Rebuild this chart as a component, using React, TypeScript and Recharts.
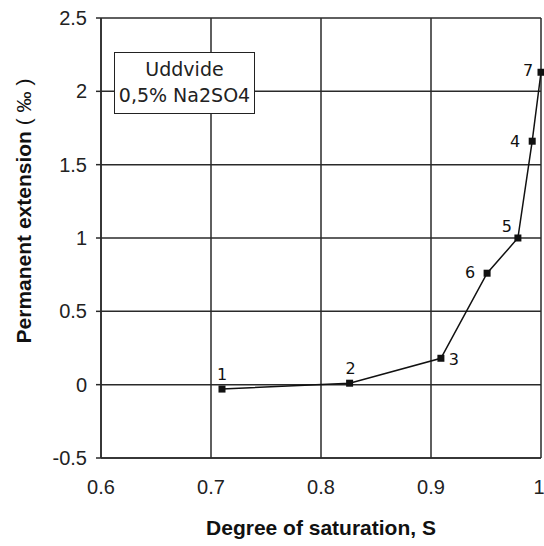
import { LineChart, Line, XAxis, YAxis, CartesianGrid, LabelList, Label } from "recharts";

// degree of saturation S vs permanent extension (per mille), test no. per point
const saturation = [0.71, 0.826, 0.909, 0.951, 0.979, 0.992, 1.0];
const extension = [-0.03, 0.01, 0.18, 0.76, 1.0, 1.66, 2.13];
const sampleNo = ["1", "2", "3", "6", "5", "4", "7"];

const xTicks = [0.6, 0.7, 0.8, 0.9, 1];
const yTicks = [-0.5, 0, 0.5, 1, 1.5, 2, 2.5];

const legendLines = ["Uddvide", "0,5% Na2SO4"];

const data = saturation.map((s, i) => ({ s, ext: extension[i], no: sampleNo[i] }));

// where each number sits relative to its marker
const labelOffset: Record<string, [number, number]> = {
  "1": [0, -15],
  "2": [1, -15],
  "3": [13, 1],
  "6": [-17, -1],
  "5": [-11, -12],
  "4": [-17, 0],
  "7": [-13, -2],
};

const tickFont = { fontFamily: "Liberation Sans", fontSize: 20, fill: "#222" };
const gridColor = "#2a2a2a";

function SquareDot(props: any) {
  const { cx, cy, index } = props;
  if (cx == null || cy == null) return null;
  return <rect key={`d-${index}`} x={cx - 3.5} y={cy - 3.5} width={7} height={7} fill="#111" />;
}

function PointLabel(props: any) {
  const { x, y, value } = props;
  const [dx, dy] = labelOffset[value] ?? [0, -12];
  return (
    <text
      x={x + dx}
      y={y + dy}
      textAnchor="middle"
      dominantBaseline="central"
      fontFamily="DejaVu Sans"
      fontSize={16}
      fill="#111"
    >
      {value}
    </text>
  );
}

function YTitle(props: any) {
  const vb = props.viewBox;
  const x = vb.x + 23;
  const y = vb.y + vb.height / 2 - 27;
  return (
    <text
      x={x}
      y={y}
      transform={`rotate(-90 ${x} ${y})`}
      textAnchor="middle"
      dominantBaseline="central"
      fontFamily="Liberation Sans"
      fontSize={21}
      fill="#111"
    >
      <tspan fontWeight="bold">Permanent extension</tspan>
      <tspan> ( ‰ )</tspan>
    </text>
  );
}

function XTitle(props: any) {
  const vb = props.viewBox;
  return (
    <text
      x={vb.x + vb.width / 2}
      y={527}
      textAnchor="middle"
      dominantBaseline="central"
      fontFamily="Liberation Sans"
      fontWeight="bold"
      fontSize={21}
      fill="#111"
    >
      Degree of saturation, S
    </text>
  );
}

export default function App() {
  return (
    <div style={{ position: "relative", width: 544, height: 546, background: "#fff" }}>
      <style>{"body{margin:0}"}</style>
      <LineChart width={544} height={546} data={data} margin={{ top: 18, right: 3, bottom: 0, left: 0 }}>
        <CartesianGrid stroke={gridColor} strokeWidth={1.5} />
        <XAxis
          type="number"
          dataKey="s"
          domain={[0.6, 1]}
          ticks={xTicks}
          height={88}
          tickLine={false}
          tickSize={0}
          tickMargin={22}
          axisLine={{ stroke: gridColor, strokeWidth: 1.5 }}
          tick={tickFont}
        >
          <Label content={<XTitle />} />
        </XAxis>
        <YAxis
          type="number"
          domain={[-0.5, 2.5]}
          ticks={yTicks}
          width={101}
          tickSize={5}
          tickMargin={9}
          tickLine={{ stroke: gridColor, strokeWidth: 1.5 }}
          axisLine={{ stroke: gridColor, strokeWidth: 1.5 }}
          tick={tickFont}
        >
          <Label content={<YTitle />} />
        </YAxis>
        <Line
          dataKey="ext"
          stroke="#111"
          strokeWidth={1.5}
          dot={SquareDot}
          activeDot={false}
          isAnimationActive={false}
        >
          <LabelList dataKey="no" content={<PointLabel />} />
        </Line>
      </LineChart>
      <div
        style={{
          position: "absolute",
          left: 114,
          top: 52,
          width: 139,
          height: 57,
          border: "1.5px solid #222",
          background: "#fff",
          fontFamily: "DejaVu Sans",
          fontSize: 19,
          lineHeight: "26px",
          color: "#222",
          textAlign: "center",
          paddingTop: 3,
          boxSizing: "content-box",
        }}
      >
        {legendLines.map((t) => (
          <div key={t}>{t}</div>
        ))}
      </div>
    </div>
  );
}
